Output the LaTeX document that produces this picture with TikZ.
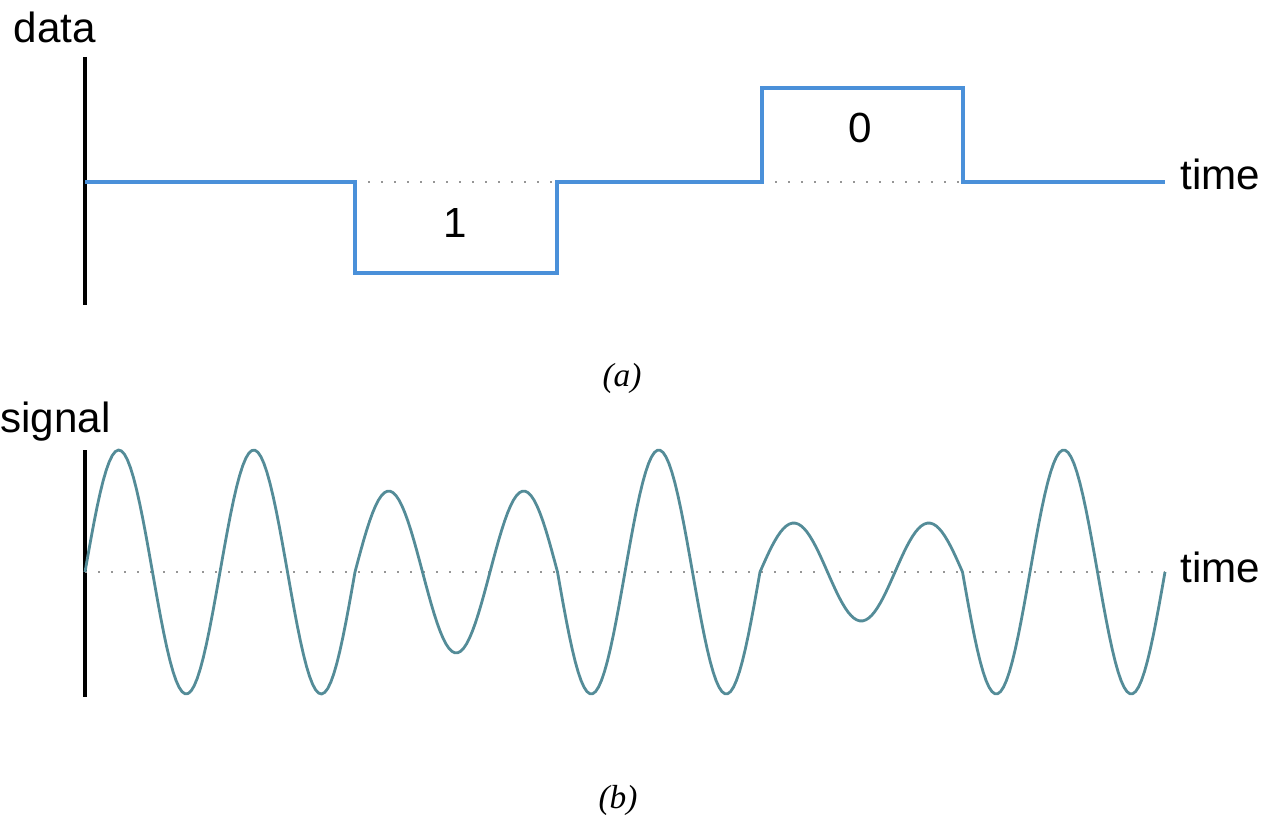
\documentclass[tikz,border=0pt]{standalone}
\usepackage{fontspec}
\setmainfont{Liberation Serif}
\newfontfamily\labelfont{Liberation Sans}
\definecolor{datablue}{RGB}{74,144,217}
\definecolor{wavecol}{RGB}{84,140,152}
\definecolor{dotgray}{RGB}{150,150,150}
\tikzset{
  lbl/.style={font=\labelfont\fontsize{24}{28}\selectfont, inner sep=0pt},
  panelcap/.style={font=\itshape\fontsize{19}{22}\selectfont, inner sep=0pt},
  axisline/.style={line width=2pt},
  zeroline/.style={dotgray, line width=1.1pt, dash pattern=on 1.2pt off 6.2pt},
  datasig/.style={datablue, line width=1.8pt},
  wavesig/.style={wavecol, line width=1.6pt}
}
\begin{document}
\begin{tikzpicture}[x=0.02cm, y=-0.02cm]
    \useasboundingbox (0,0) rectangle (1266,827);

    % (a) data
    \coordinate (T) at (85, 57);
    \coordinate (B) at (85, 305);
    \draw[axisline] (T) -- (B);

    \draw[zeroline] (355, 182) -- (557, 182);
    \draw[zeroline] (762, 182) -- (963, 182);

    \draw[datasig] (85, 182) -- (355, 182) -- (355, 273) -- (557, 273) -- (557, 182)
        -- (762, 182) -- (762, 88) -- (963, 88) -- (963, 182) -- (1165, 182);

    \node[lbl, anchor=base] (data) at (55, 43) {data};
    \node[lbl, anchor=base west] (timea) at (1180, 190) {time};
    \node[lbl, anchor=base] (one) at (455, 237) {1};
    \node[lbl, anchor=base] (zero) at (860, 143) {0};
    \node[panelcap] (capa) at (622, 378) {(a)};

    % (b) signal, period 135 -> 360/135 = 2.6667 deg per unit
    \coordinate (S) at (85, 450);
    \coordinate (E) at (85, 697);
    \draw[axisline] (S) -- (E);

    \draw[zeroline] (85, 572) -- (1165, 572);

    \draw[wavesig, line join=round]
        plot[domain=85:355, samples=90] (\x, {572-122*sin(2.6667*(\x-85))})
        -- plot[domain=355:557.5, samples=70] (\x, {572-81*sin(2.6667*(\x-85))})
        -- plot[domain=557.5:760, samples=70] (\x, {572-122*sin(2.6667*(\x-85))})
        -- plot[domain=760:962.5, samples=70] (\x, {572-49*sin(2.6667*(\x-85))})
        -- plot[domain=962.5:1165, samples=70] (\x, {572-122*sin(2.6667*(\x-85))});

    \node[lbl, anchor=base west] (signal) at (0, 432) {signal};
    \node[lbl, anchor=base west] (timeb) at (1180, 582) {time};
    \node[panelcap] (capb) at (618, 800) {(b)};
\end{tikzpicture}
\end{document}
